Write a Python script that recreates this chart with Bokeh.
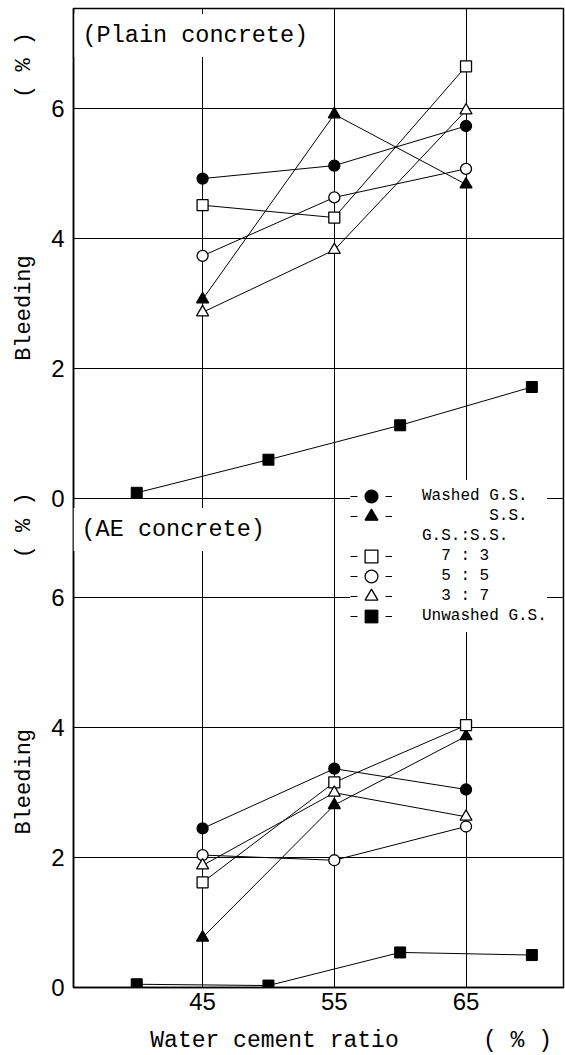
import math
from bokeh.plotting import figure
from bokeh.models import Range1d, FixedTicker, Label, Legend, LegendItem
from bokeh.layouts import column, row
from bokeh.embed import file_html
from bokeh.resources import INLINE

# ---- data ----
W_C = [45, 55, 65]                 # water cement ratio (%)
W_C_UNWASHED = [40, 50, 60, 70]

PLAIN_WASHED = [4.92, 5.12, 5.73]
PLAIN_SS = [3.06, 5.91, 4.83]
PLAIN_73 = [4.51, 4.32, 6.65]
PLAIN_55 = [3.73, 4.63, 5.07]
PLAIN_37 = [2.86, 3.82, 5.97]
PLAIN_UNWASHED = [0.08, 0.59, 1.12, 1.71]

AE_WASHED = [2.45, 3.37, 3.05]
AE_SS = [0.77, 2.81, 3.87]
AE_73 = [1.62, 3.16, 4.04]
AE_55 = [2.04, 1.96, 2.48]
AE_37 = [1.88, 3.00, 2.63]
AE_UNWASHED = [0.05, 0.03, 0.54, 0.50]

X_TICKS = [45, 55, 65]
Y_TICKS = [0, 2, 4, 6]
PANEL_MAX = 7.54   # each panel spans 0 .. PANEL_MAX %

LEGEND_LABELS = ["Washed G.S.", "       S.S.", "G.S.:S.S.", "  7 : 3", "  5 : 5", "  3 : 7", "Unwashed G.S."]
Y_TITLES = ["( % )", "Bleeding", "( % )", "Bleeding"]
X_TITLES = ["Water cement ratio", "( % )"]

MONO = "Liberation Mono"
SANS = "Liberation Sans"

# ---- layout constants (pixels) ----
PAGE_W = 565
LEFT_W = 48                 # strip for rotated y titles
MAIN_W = PAGE_W - LEFT_W
FRAME_TOP = 8
FRAME_BOTTOM = 987          # page y of the x axis
MAIN_BB = 36                # room for x tick labels
MAIN_H = FRAME_BOTTOM + MAIN_BB
BOTTOM_H = 1055 - MAIN_H
Y_TITLE_X = 24
Y_TITLE_Y = [59, 313, 540, 808]
X_TITLE_X = [274, 517]

p = figure(width=MAIN_W, height=MAIN_H, x_range=Range1d(35.2, 72.4), y_range=Range1d(0, 2 * PANEL_MAX),
           output_backend="svg", toolbar_location=None,
           min_border_left=73 - LEFT_W, min_border_right=2, min_border_top=FRAME_TOP,
           min_border_bottom=MAIN_BB)
p.extra_y_ranges = {"plain": Range1d(-PANEL_MAX, PANEL_MAX)}

all_ticks = [float(t) for t in Y_TICKS] + [PANEL_MAX + t for t in Y_TICKS]
overrides = {}
for t in Y_TICKS:
    overrides[float(t)] = str(t)
    overrides[PANEL_MAX + t] = str(t)
p.yaxis.ticker = FixedTicker(ticks=all_ticks)
p.yaxis.major_label_overrides = overrides
p.xaxis.ticker = FixedTicker(ticks=X_TICKS)
p.xgrid.ticker = FixedTicker(ticks=X_TICKS)
p.ygrid.ticker = FixedTicker(ticks=all_ticks)

for ax in (p.xaxis, p.yaxis):
    ax.major_tick_in = 0
    ax.major_tick_out = 0
    ax.minor_tick_in = 0
    ax.minor_tick_out = 0
    ax.axis_line_color = "black"
    ax.axis_line_width = 1.5
    ax.major_label_text_font = SANS
    ax.major_label_text_font_size = "24px"
    ax.major_label_text_color = "black"
p.yaxis.major_label_standoff = 9
p.xaxis.major_label_standoff = 5

for g in (p.xgrid, p.ygrid):
    g.grid_line_color = "black"
    g.grid_line_alpha = 1.0
    g.grid_line_width = 1

p.outline_line_color = "black"
p.outline_line_width = 1.5
p.background_fill_color = "white"
p.border_fill_color = "white"

SPECS = [
    ("circle", True, 11, PLAIN_WASHED, AE_WASHED),
    ("triangle", True, 12, PLAIN_SS, AE_SS),
    ("square", False, 11, PLAIN_73, AE_73),
    ("circle", False, 11, PLAIN_55, AE_55),
    ("triangle", False, 12, PLAIN_37, AE_37),
]

legend_markers = []
for marker, filled, size, plain, ae in SPECS:
    fill = "black" if filled else "white"
    p.line(W_C, plain, y_range_name="plain", line_color="black", line_width=1)
    p.scatter(W_C, plain, y_range_name="plain", marker=marker, size=size,
              fill_color=fill, line_color="black", line_width=1.3)
    p.line(W_C, ae, line_color="black", line_width=1)
    r = p.scatter(W_C, ae, marker=marker, size=size,
                  fill_color=fill, line_color="black", line_width=1.3)
    legend_markers.append(r)

p.line(W_C_UNWASHED, PLAIN_UNWASHED, y_range_name="plain", line_color="black", line_width=1)
p.scatter(W_C_UNWASHED, PLAIN_UNWASHED, y_range_name="plain", marker="square", size=11,
          fill_color="black", line_color="black")
p.line(W_C_UNWASHED, AE_UNWASHED, line_color="black", line_width=1)
r_unw = p.scatter(W_C_UNWASHED, AE_UNWASHED, marker="square", size=11,
                  fill_color="black", line_color="black")

# legend helpers: a dashed stub (no visible data) and a blank glyph for the header row
nan = float("nan")
dash_r = p.line(x=[nan], y=[nan], line_color="black", line_width=1, line_dash="7 28")
blank_r = p.scatter(x=[nan], y=[nan], size=1, fill_alpha=0, line_alpha=0)

legend_renderers = [
    [dash_r, legend_markers[0]],
    [dash_r, legend_markers[1]],
    [blank_r],
    [dash_r, legend_markers[2]],
    [dash_r, legend_markers[3]],
    [dash_r, legend_markers[4]],
    [dash_r, r_unw],
]
items = [LegendItem(label=lab, renderers=rs) for lab, rs in zip(LEGEND_LABELS, legend_renderers)]

legend_style = dict(orientation="vertical", glyph_width=42, glyph_height=32, label_height=20,
                    spacing=8, label_standoff=30, padding=0, margin=0, border_line_color=None,
                    label_text_font=MONO, label_text_font_size="16px", label_text_color="black")
# two interleaved legends so that rows are 20 px apart while keys stay large
legend_a = Legend(items=items[0::2], location=(277, 355), background_fill_color="white",
                  background_fill_alpha=1.0, **legend_style)
legend_b = Legend(items=items[1::2], location=(277, 375), background_fill_alpha=0.0, **legend_style)

def screen_y(page_y):
    return FRAME_BOTTOM - page_y

p.add_layout(Label(x=1, y=screen_y(35), x_units="screen", y_units="screen",
                   text="(Plain concrete)", text_font=MONO, text_font_size="23.5px",
                   text_align="left", text_baseline="middle", text_color="black",
                   background_fill_color="white", padding=8))
p.add_layout(Label(x=0, y=screen_y(529), x_units="screen", y_units="screen",
                   text="(AE concrete)", text_font=MONO, text_font_size="23.5px",
                   text_align="left", text_baseline="middle", text_color="black",
                   background_fill_color="white", padding=8))
p.add_layout(legend_a)
p.add_layout(legend_b)

# left strip with the rotated y titles
left = figure(width=LEFT_W, height=MAIN_H, x_range=Range1d(0, LEFT_W), y_range=Range1d(MAIN_H, 0),
              output_backend="svg", toolbar_location=None, min_border=0)
left.axis.visible = False
left.grid.visible = False
left.outline_line_color = None
left.text(x=[Y_TITLE_X] * len(Y_TITLES), y=Y_TITLE_Y, text=Y_TITLES, angle=math.pi / 2,
          text_font={"value": MONO}, text_font_size="22px", text_align="center",
          text_baseline="middle", text_color="black")

# bottom strip with the x title
bottom = figure(width=PAGE_W, height=BOTTOM_H, x_range=Range1d(0, PAGE_W), y_range=Range1d(BOTTOM_H, 0),
                output_backend="svg", toolbar_location=None, min_border=0)
bottom.axis.visible = False
bottom.grid.visible = False
bottom.outline_line_color = None
bottom.text(x=X_TITLE_X, y=[1040 - MAIN_H] * len(X_TITLES), text=X_TITLES,
            text_font={"value": MONO}, text_font_size="23px", text_align="center",
            text_baseline="middle", text_color="black")

layout = column(row(left, p), bottom)
open("out.html", "w").write(file_html(layout, INLINE))
